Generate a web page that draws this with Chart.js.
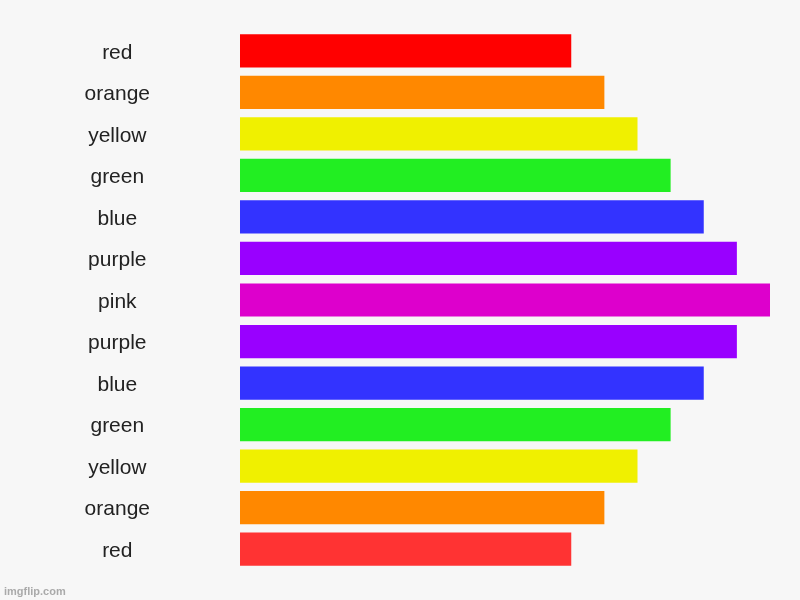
<!DOCTYPE html>
<html>
<head>
<meta charset="utf-8">
<script src="https://cdn.jsdelivr.net/npm/chart.js@4"></script>
<style>
  html, body { margin: 0; padding: 0; background: #f7f7f7; }
  #wrap { width: 800px; height: 600px; position: relative; }
</style>
</head>
<body>
<div id="wrap"><canvas id="myBarChart"></canvas></div>
<script>
const labels = ["red", "orange", "yellow", "green", "blue", "purple", "pink", "purple", "blue", "green", "yellow", "orange", "red"];
const values = [10, 11, 12, 13, 14, 15, 16, 15, 14, 13, 12, 11, 10];
const barColors = ["#ff0000", "#ff8800", "#f0f000", "#22ee22", "#3333ff", "#9900ff", "#dd00cc", "#9900ff", "#3333ff", "#22ee22", "#f0f000", "#ff8800", "#ff3333"];

// background + watermark
const backdrop = {
  id: 'backdrop',
  beforeDraw(chart) {
    const c = chart.ctx;
    c.save();
    c.fillStyle = "#f7f7f7";
    c.fillRect(0, 0, chart.width, chart.height);
    c.restore();
  },
  afterDraw(chart) {
    const c = chart.ctx;
    c.save();
    c.font = "bold 11px 'Liberation Sans', Arial, sans-serif";
    c.fillStyle = "#aaaaaa";
    c.textBaseline = "alphabetic";
    c.fillText("imgflip.com", 4, 595);
    c.restore();
  }
};

function setupBarChart() {
  Chart.defaults.font.family = "'Liberation Sans', Arial, sans-serif";

  let ctx = document.getElementById("myBarChart").getContext('2d');
  new Chart(ctx, {
    type: "bar",
    data: {
      labels: labels,
      datasets: [{
        data: values,
        backgroundColor: barColors,
        borderWidth: 0,
        categoryPercentage: 0.8,
        barPercentage: 1.0
      }]
    },
    plugins: [backdrop],
    options: {
      indexAxis: 'y',
      responsive: true,
      maintainAspectRatio: false,
      animation: false,
      layout: { padding: { top: 30, bottom: 30, right: 30, left: 0 } },
      scales: {
        x: {
          display: false,
          min: 0,
          max: 16
        },
        y: {
          grid: { display: false, drawTicks: false },
          border: { display: false },
          afterFit: function (scale) {
            scale.width = 240;
            // tick padding is only meant to push labels sideways
            scale.paddingTop = 0;
            scale.paddingBottom = 0;
          },
          ticks: {
            crossAlign: 'center',
            padding: 90,
            labelOffset: 2,
            color: "#222222",
            font: { size: 21 }
          }
        }
      },
      plugins: {
        legend: { display: false },
        tooltip: { enabled: false }
      }
    }
  });
}

setupBarChart();
</script>
</body>
</html>
